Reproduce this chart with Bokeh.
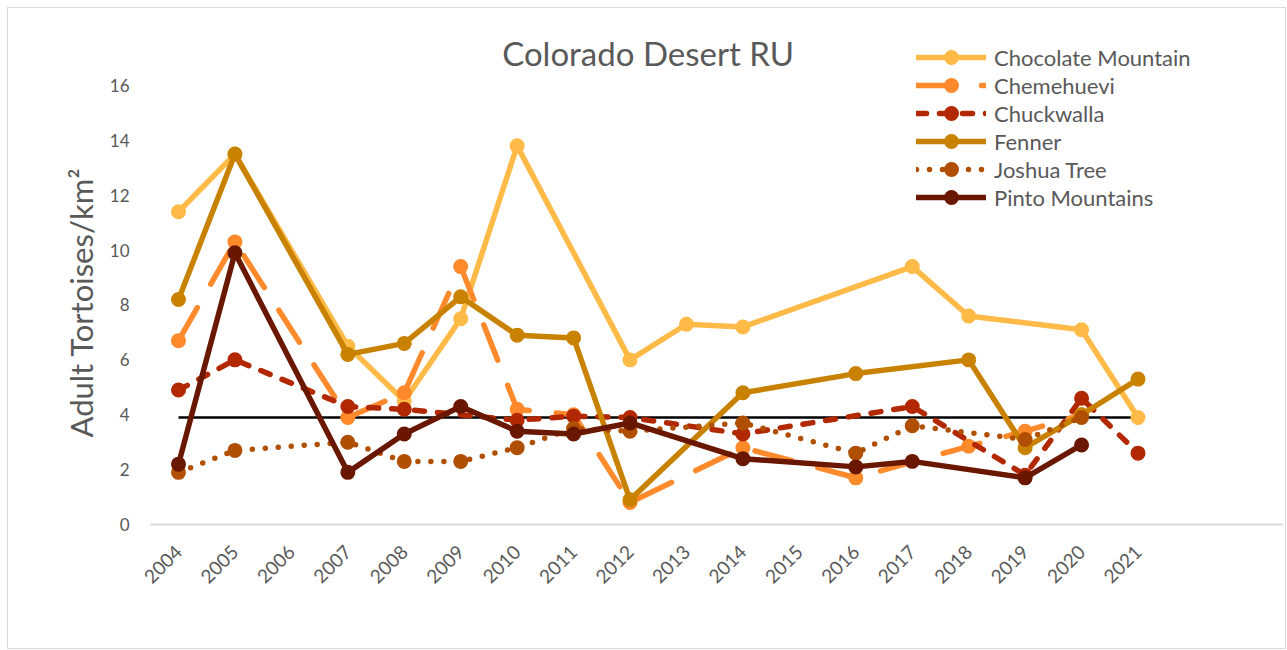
import math
from bokeh.plotting import figure
from bokeh.models import FixedTicker, Legend, LegendItem, Label, Range1d, Title
from bokeh.embed import file_html
from bokeh.resources import INLINE

# ---- data ----
year_ticks = list(range(2004, 2022))

choc_years = [2004, 2005, 2007, 2008, 2009, 2010, 2012, 2013, 2014, 2017, 2018, 2020, 2021]
choc_vals = [11.4, 13.5, 6.5, 4.5, 7.5, 13.8, 6.0, 7.3, 7.2, 9.4, 7.6, 7.1, 3.9]

cheme_years = [2004, 2005, 2007, 2008, 2009, 2010, 2011, 2012, 2014, 2016, 2018, 2019, 2020]
cheme_vals = [6.7, 10.3, 3.9, 4.8, 9.4, 4.2, 4.0, 0.8, 2.8, 1.7, 2.85, 3.4, 4.0]

chuck_years = [2004, 2005, 2007, 2008, 2010, 2011, 2012, 2014, 2017, 2019, 2020, 2021]
chuck_vals = [4.9, 6.0, 4.3, 4.2, 3.8, 3.95, 3.9, 3.3, 4.3, 1.8, 4.6, 2.6]

fenner_years = [2004, 2005, 2007, 2008, 2009, 2010, 2011, 2012, 2014, 2016, 2018, 2019, 2020, 2021]
fenner_vals = [8.2, 13.5, 6.2, 6.6, 8.3, 6.9, 6.8, 0.9, 4.8, 5.5, 6.0, 2.8, 4.0, 5.3]

joshua_years = [2004, 2005, 2007, 2008, 2009, 2010, 2011, 2012, 2014, 2016, 2017, 2019, 2020]
joshua_vals = [1.9, 2.7, 3.0, 2.3, 2.3, 2.8, 3.5, 3.4, 3.7, 2.6, 3.6, 3.1, 3.9]

pinto_years = [2004, 2005, 2007, 2008, 2009, 2010, 2011, 2012, 2014, 2016, 2017, 2019, 2020]
pinto_vals = [2.2, 9.9, 1.9, 3.3, 4.3, 3.4, 3.3, 3.7, 2.4, 2.1, 2.3, 1.7, 2.9]

ref_years = [2004, 2021]
ref_vals = [3.9, 3.9]

series_names = ["Chocolate Mountain", "Chemehuevi", "Chuckwalla", "Fenner", "Joshua Tree", "Pinto Mountains"]
series_colors = ["#FFBA47", "#FF8A2B", "#B22800", "#C88200", "#B04F00", "#6A1700"]
series_dashes = ["solid", "38 27", "10 13", "solid", "0 13", "solid"]

FONT = "Lato"
GREY = "#595959"

p = figure(width=1277, height=640, output_backend="svg", toolbar_location=None,
           x_range=Range1d(2003.504, 2023.56), y_range=Range1d(0, 18.66),
           frame_width=1132, frame_height=512,
           min_border_left=142, min_border_right=3, min_border_top=4, min_border_bottom=124)
p.styles = {"border": "1px solid #D9D9D9", "margin-left": "7px", "margin-top": "7px"}
p.outline_line_color = None
p.xgrid.grid_line_color = None
p.ygrid.grid_line_color = None
p.background_fill_color = "white"
p.border_fill_color = "white"

# reference line
p.line(ref_years, ref_vals, line_color="black", line_width=2.5)

all_data = [(choc_years, choc_vals), (cheme_years, cheme_vals), (chuck_years, chuck_vals),
            (fenner_years, fenner_vals), (joshua_years, joshua_vals), (pinto_years, pinto_vals)]

items = []
for (xs, ys), name, col, dash in zip(all_data, series_names, series_colors, series_dashes):
    r1 = p.line(xs, ys, line_color=col, line_width=5.5, line_dash=dash, line_cap="round", line_join="round")
    r2 = p.scatter(xs, ys, marker="circle", size=11.2, fill_color=col, line_color=col, line_width=3.8)
    items.append(LegendItem(label=name, renderers=[r1, r2]))

legend = Legend(items=items, location=(766, 313), glyph_width=70, glyph_height=28,
                label_height=20, spacing=0, padding=0, margin=0, label_standoff=8,
                label_text_font=FONT, label_text_font_size="22px", label_text_color=GREY,
                background_fill_alpha=0, border_line_color=None)
p.add_layout(legend)

# axes
p.xaxis.ticker = FixedTicker(ticks=year_ticks)
p.xaxis.major_label_orientation = math.pi / 4
p.xaxis.axis_line_color = "#D9D9D9"
p.xaxis.axis_line_width = 2
p.xaxis.major_tick_line_color = None
p.xaxis.minor_tick_line_color = None
p.xaxis.major_label_text_font = FONT
p.xaxis.major_label_text_font_size = "19px"
p.xaxis.major_label_text_color = GREY
p.xaxis.major_label_standoff = 18

p.yaxis.ticker = FixedTicker(ticks=list(range(0, 17, 2)))
p.yaxis.axis_line_color = None
p.yaxis.major_tick_line_color = None
p.yaxis.minor_tick_line_color = None
p.yaxis.major_label_text_font = FONT
p.yaxis.major_label_text_font_size = "17px"
p.yaxis.major_label_text_color = GREY
p.yaxis.major_label_standoff = 15

ylabel = Title(text="Adult Tortoises/km²", align="left", offset=87, standoff=14,
               text_font=FONT, text_font_size="31px", text_font_style="normal", text_color=GREY)
p.add_layout(ylabel, "left")

title = Label(x=2012.32, y=17.2, text="Colorado Desert RU", text_align="center",
              text_baseline="middle", text_font=FONT, text_font_size="33px", text_color=GREY)
p.add_layout(title)

open("out.html", "w").write(file_html(p, INLINE))
